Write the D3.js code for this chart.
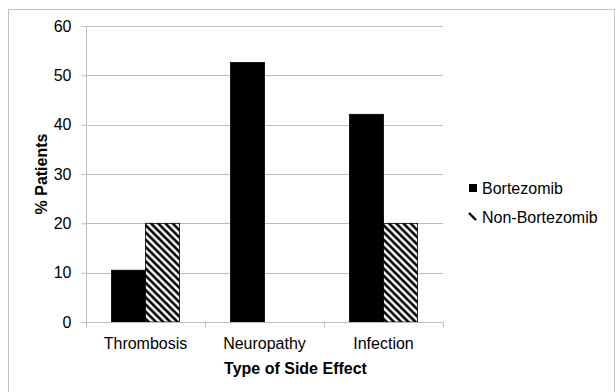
<!DOCTYPE html>
<html>
<head>
<meta charset="utf-8">
<script src="https://cdn.jsdelivr.net/npm/d3@7"></script>
<style>
  html, body { margin: 0; padding: 0; background: #fff; }
  svg { display: block; font-family: "Liberation Sans", Arial, sans-serif; }
</style>
</head>
<body>
<svg id="chart" width="616" height="392"></svg>
<script>
// Side-effect rates by treatment group
const categories = ["Thrombosis", "Neuropathy", "Infection"];
const seriesNames = ["Bortezomib", "Non-Bortezomib"];
const bortezomib = [10.5, 52.6, 42.1];
const nonBortezomib = [20, 0, 20];
const yTicks = [0, 10, 20, 30, 40, 50, 60];

const svg = d3.select("#chart");
const gridColor = "#bdbdbd";

// Hatch fill for the second series
const defs = svg.append("defs");
const P = 7.2;
const pat = defs.append("pattern")
  .attr("id", "hatch")
  .attr("patternUnits", "userSpaceOnUse")
  .attr("width", P).attr("height", P);
pat.append("rect").attr("width", P).attr("height", P).attr("fill", "#fff");
pat.append("path")
  .attr("d", `M-1,-1L${P + 1},${P + 1}M-${P / 2},${P / 2}L${P / 2},${P * 1.5}M${P / 2},-${P / 2}L${P * 1.5},${P / 2}`)
  .attr("stroke", "#000").attr("stroke-width", 2.6);

// Outer chart frame
svg.append("rect")
  .attr("x", 8.5).attr("y", 9.5)
  .attr("width", 606).attr("height", 420)
  .attr("fill", "none").attr("stroke", "#c4c4c4").attr("stroke-width", 1);

const x0 = d3.scaleBand().domain(categories).range([86, 443]).paddingInner(0).paddingOuter(0);
const x1 = d3.scaleBand().domain(seriesNames).range([0, x0.bandwidth()]).paddingInner(0).paddingOuter(0.75);
const y = d3.scaleLinear().domain([0, 60]).range([322, 26]);

// Horizontal gridlines
svg.append("g")
  .selectAll("line")
  .data(yTicks.filter(d => d > 0))
  .join("line")
  .attr("x1", 86).attr("x2", 443)
  .attr("y1", d => Math.round(y(d)) + 0.5).attr("y2", d => Math.round(y(d)) + 0.5)
  .attr("stroke", gridColor);

// Y axis
const yAxis = svg.append("g")
  .attr("transform", "translate(86.5,0)")
  .call(d3.axisLeft(y).tickValues(yTicks).tickSize(5).tickPadding(10).tickFormat(d3.format("d")));
yAxis.select(".domain").attr("stroke", gridColor).attr("d", `M0,${y(60)}V${y(0)}`);
yAxis.selectAll(".tick line").attr("stroke", gridColor);
yAxis.selectAll(".tick text")
  .attr("font-size", 16).attr("fill", "#000")
  .attr("font-family", "'Liberation Sans', Arial, sans-serif");

// Bars
const rows = categories.map((c, i) => ({
  category: c,
  values: [
    { series: seriesNames[0], value: bortezomib[i] },
    { series: seriesNames[1], value: nonBortezomib[i] }
  ]
}));

svg.append("g")
  .selectAll("g")
  .data(rows)
  .join("g")
  .attr("transform", d => `translate(${x0(d.category)},0)`)
  .selectAll("rect")
  .data(d => d.values)
  .join("rect")
  .attr("x", d => x1(d.series))
  .attr("y", d => y(d.value))
  .attr("width", x1.bandwidth())
  .attr("height", d => y(0) - y(d.value))
  .attr("fill", d => d.series === seriesNames[0] ? "#000" : "url(#hatch)")
  .attr("stroke", d => d.value > 0 ? "#000" : "none")
  .attr("stroke-width", 0.8);

// X axis
const xAxis = svg.append("g")
  .attr("transform", "translate(0,322.5)");
xAxis.append("line")
  .attr("x1", 86).attr("x2", 443)
  .attr("stroke", gridColor);
xAxis.selectAll(".xtick")
  .data([...categories.map(c => x0(c)), 443])
  .join("line")
  .attr("class", "xtick")
  .attr("x1", d => Math.round(d) + 0.5).attr("x2", d => Math.round(d) + 0.5)
  .attr("y1", 0).attr("y2", 5)
  .attr("stroke", gridColor);
xAxis.selectAll("text")
  .data(categories)
  .join("text")
  .attr("x", d => x0(d) + x0.bandwidth() / 2)
  .attr("y", 26)
  .attr("text-anchor", "middle")
  .attr("font-size", 16)
  .attr("fill", "#000")
  .text(d => d);

// Axis titles
svg.append("text")
  .attr("x", 295.5).attr("y", 374)
  .attr("text-anchor", "middle")
  .attr("font-size", 16).attr("font-weight", "bold")
  .text("Type of Side Effect");

svg.append("text")
  .attr("transform", "translate(47,174) rotate(-90)")
  .attr("text-anchor", "middle")
  .attr("font-size", 16).attr("font-weight", "bold")
  .text("% Patients");

// Legend
const legend = svg.append("g");
const legendY = [188, 217];
legend.append("rect")
  .attr("x", 469).attr("y", legendY[0] - 4)
  .attr("width", 8).attr("height", 8)
  .attr("fill", "#000");
legend.append("line")
  .attr("x1", 469).attr("y1", legendY[1] - 4)
  .attr("x2", 476).attr("y2", legendY[1] + 3)
  .attr("stroke", "#000").attr("stroke-width", 2.4);
legend.selectAll("text")
  .data(seriesNames)
  .join("text")
  .attr("x", 482)
  .attr("y", (d, i) => legendY[i])
  .attr("dy", "0.35em")
  .attr("font-size", 16)
  .attr("fill", "#000")
  .text(d => d);
</script>
</body>
</html>
